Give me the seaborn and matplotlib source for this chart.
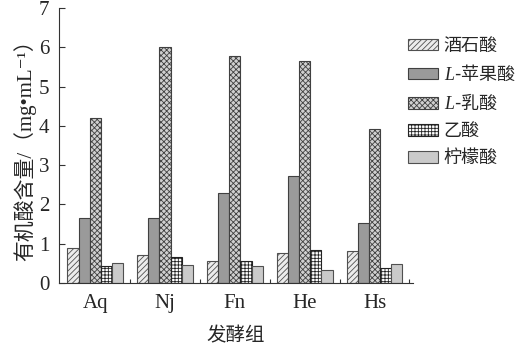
import matplotlib
matplotlib.use("Agg")
import matplotlib.pyplot as plt
from matplotlib.ticker import FixedLocator
import seaborn as sns
import pandas as pd

groups = ["Aq", "Nj", "Fn", "He", "Hs"]
acids = ["酒石酸", r"$\mathit{L}$-苹果酸", r"$\mathit{L}$-乳酸", "乙酸", "柠檬酸"]
tartaric = [0.90, 0.70, 0.55, 0.77, 0.82]
malic = [1.65, 1.65, 2.30, 2.73, 1.53]
lactic = [4.20, 6.00, 5.77, 5.65, 3.92]
acetic = [0.42, 0.65, 0.57, 0.83, 0.38]
citric = [0.50, 0.45, 0.42, 0.33, 0.47]
series = [tartaric, malic, lactic, acetic, citric]

rows = []
for acid, vals in zip(acids, series):
    for g, v in zip(groups, vals):
        rows.append({"group": g, "acid": acid, "value": v})
df = pd.DataFrame(rows)

sns.set_style("ticks")
plt.rcParams["font.family"] = ["Liberation Serif", "Noto Sans CJK SC", "DejaVu Sans"]
plt.rcParams["mathtext.fontset"] = "custom"
plt.rcParams["mathtext.rm"] = "Liberation Serif"
plt.rcParams["mathtext.it"] = "Liberation Serif:italic"
plt.rcParams["hatch.linewidth"] = 0.6

fills = ["#ececec", "#9a9a9a", "#d0d0d0", "#ffffff", "#cacaca"]
hatches = ["//////", "", "xxxxxx", "+++++", ""]
edges = ["#505050", "#404040", "#404040", "#222222", "#505050"]

fig = plt.figure(figsize=(5.28, 3.48), dpi=100)
ax = fig.add_axes([0.1117, 0.187, 0.782 - 0.1117, 0.977 - 0.187])

sns.barplot(data=df, x="group", y="value", hue="acid", order=groups,
            hue_order=acids, palette=fills, width=0.8, ax=ax,
            edgecolor="#333333", linewidth=0.8, errorbar=None, saturation=1)

for cont, h, ec, fc in zip(ax.containers, hatches, edges, fills):
    for p in cont:
        p.set_hatch(h)
        p.set_edgecolor(ec)
        p.set_facecolor(fc)

ax.set_xlim(-0.52, 4.55)
ax.set_ylim(0, 7)
ax.set_yticks(range(0, 8))
ax.xaxis.set_minor_locator(FixedLocator([0.5, 1.5, 2.5, 3.5, 4.5]))
ax.tick_params(axis="both", which="major", direction="in", length=4,
               width=0.8, labelsize=15, color="#333333")
ax.tick_params(axis="x", which="major", pad=8)
ax.tick_params(axis="x", which="minor", direction="in", length=3,
               width=0.8, color="#333333")
ax.tick_params(axis="y", pad=7)
for s in ["top", "right"]:
    ax.spines[s].set_visible(False)
for s in ["left", "bottom"]:
    ax.spines[s].set_linewidth(0.8)
    ax.spines[s].set_color("#333333")

ax.set_xlabel("发酵组", fontsize=14, labelpad=10)
ax.set_ylabel("有机酸含量/（mg•mL⁻¹）", fontsize=15, labelpad=2)

handles, labels = ax.get_legend_handles_labels()
leg = ax.legend(handles, labels, loc="upper left", bbox_to_anchor=(0.985, 0.895),
                frameon=False, prop={"family": "Noto Sans CJK SC", "size": 13},
                handlelength=1.7, handleheight=0.6,
                handletextpad=0.3, labelspacing=0.5, borderaxespad=0,
                borderpad=0)
for p, h, ec, fc in zip(leg.get_patches(), hatches, edges, fills):
    p.set_hatch(h)
    p.set_edgecolor(ec)
    p.set_facecolor(fc)
    p.set_linewidth(0.8)

fig.savefig("out.png", dpi=100)
